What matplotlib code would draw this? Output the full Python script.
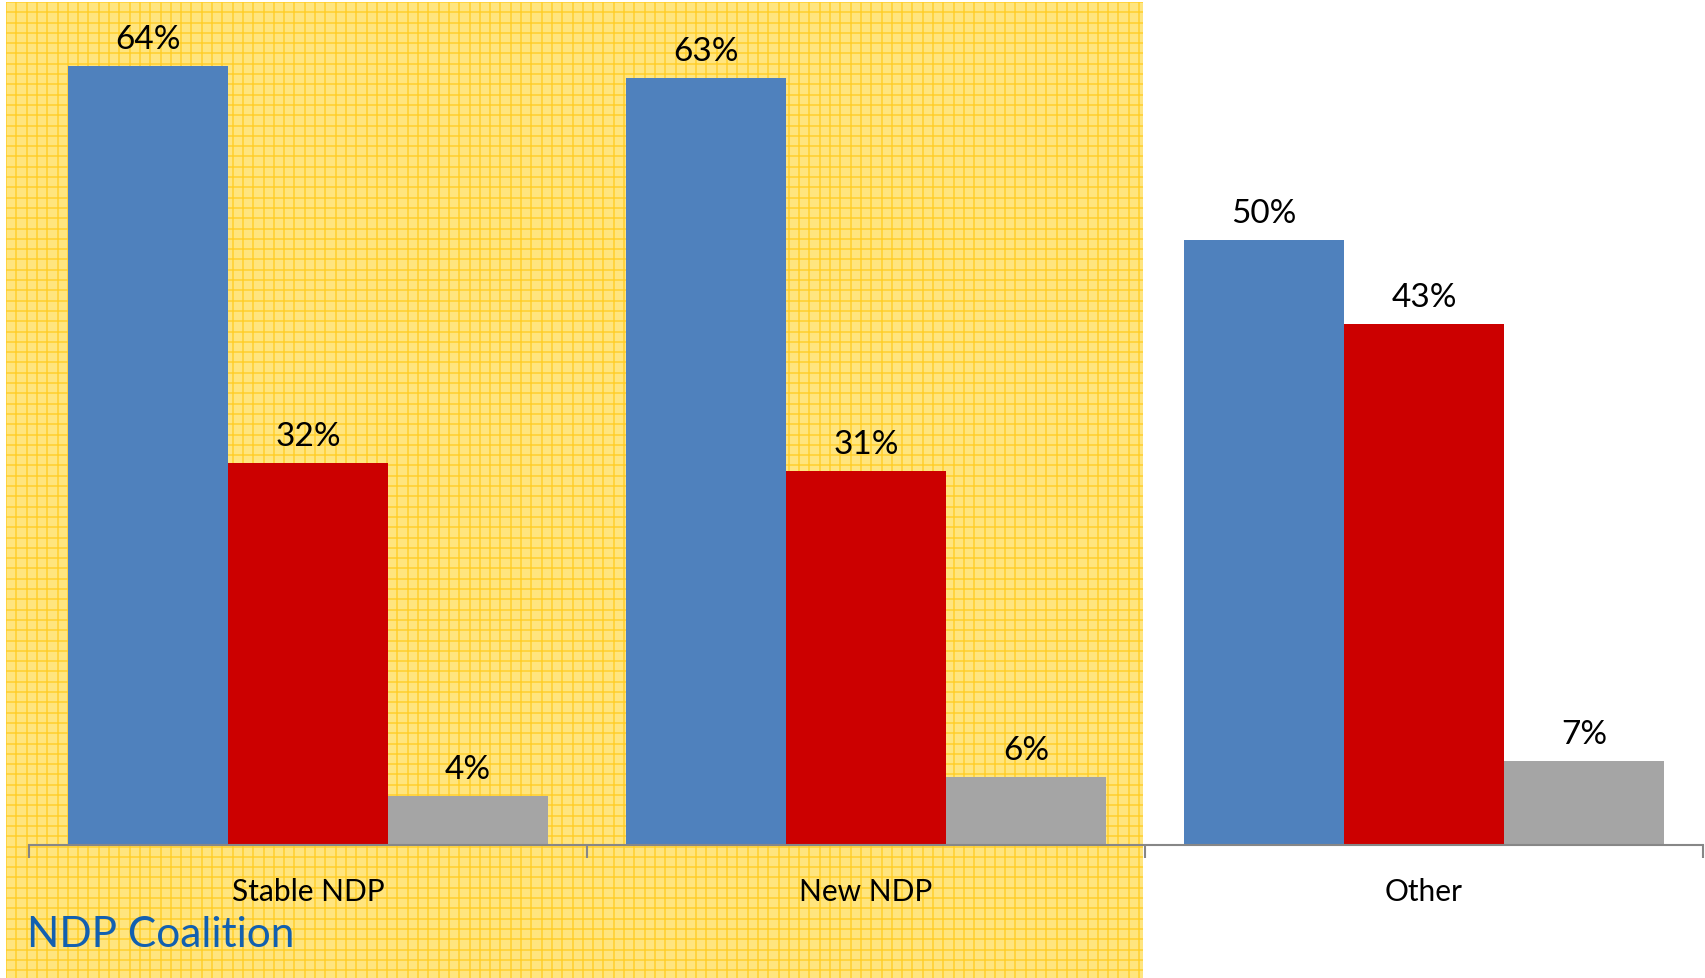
import numpy as np
import matplotlib.pyplot as plt

# data
groups = ['Stable NDP', 'New NDP', 'Other']
blue_vals = [64.0, 63.0, 49.7]
red_vals = [31.4, 30.7, 42.8]
grey_vals = [4.0, 5.6, 6.9]
blue_labels = ['64%', '63%', '50%']
red_labels = ['32%', '31%', '43%']
grey_labels = ['4%', '6%', '7%']
colors = ['#4F81BD', '#CC0000', '#A5A5A5']

plt.rcParams['font.family'] = ['Lato', 'DejaVu Sans']

W, H = 1705, 979
fig = plt.figure(figsize=(W / 100, H / 100), dpi=100)

# yellow grid-paper background behind the first two groups
bg = fig.add_axes([6 / W, 0, (1143 - 6) / W, 1 - 3 / H], zorder=0)
bg.set_facecolor('#FFE57F')
bg.set_xlim(0, 1137)
bg.set_ylim(0, 976)
for x in np.arange(0, 1137, 10.3):
    bg.axvline(x, color='#FFCC22', lw=1.2, alpha=0.8)
for y in np.arange(976, 0, -10.3):
    bg.axhline(y, color='#FFCC22', lw=1.2, alpha=0.8)
bg.set_xticks([])
bg.set_yticks([])
for s in bg.spines.values():
    s.set_visible(False)

ax = fig.add_axes([29 / W, 1 - 846 / H, (1703 - 29) / W, 846 / H], zorder=1)
ax.patch.set_alpha(0)

x = np.arange(len(groups))
w = 0.2865
series = [(blue_vals, blue_labels), (red_vals, red_labels), (grey_vals, grey_labels)]
for i, ((vals, labels), c) in enumerate(zip(series, colors)):
    bars = ax.bar(x + (i - 1) * w, vals, w, color=c, linewidth=0)
    for b, v, lab in zip(bars, vals, labels):
        ax.text(b.get_x() + b.get_width() / 2, v + 1.0, lab,
                ha='center', va='bottom', fontsize=24, color='black')

ax.set_xlim(-0.5, 2.5)
ax.set_ylim(0, 69.5)
ax.set_yticks([])
for s in ['top', 'right', 'left']:
    ax.spines[s].set_visible(False)
ax.spines['bottom'].set_color('#878787')
ax.spines['bottom'].set_linewidth(1.5)

ax.set_xticks(x)
ax.set_xticklabels(groups, fontsize=21.5)
ax.tick_params(axis='x', which='major', length=0, pad=23)
ax.set_xticks([-0.5, 0.5, 1.5, 2.5], minor=True)
ax.tick_params(axis='x', which='minor', length=9, width=1.5, color='#878787')

fig.text(27 / W, 1 - 935 / H, 'NDP Coalition', fontsize=30.5, color='#1260B0',
         ha='left', va='center')

fig.savefig('out.png', dpi=100)
